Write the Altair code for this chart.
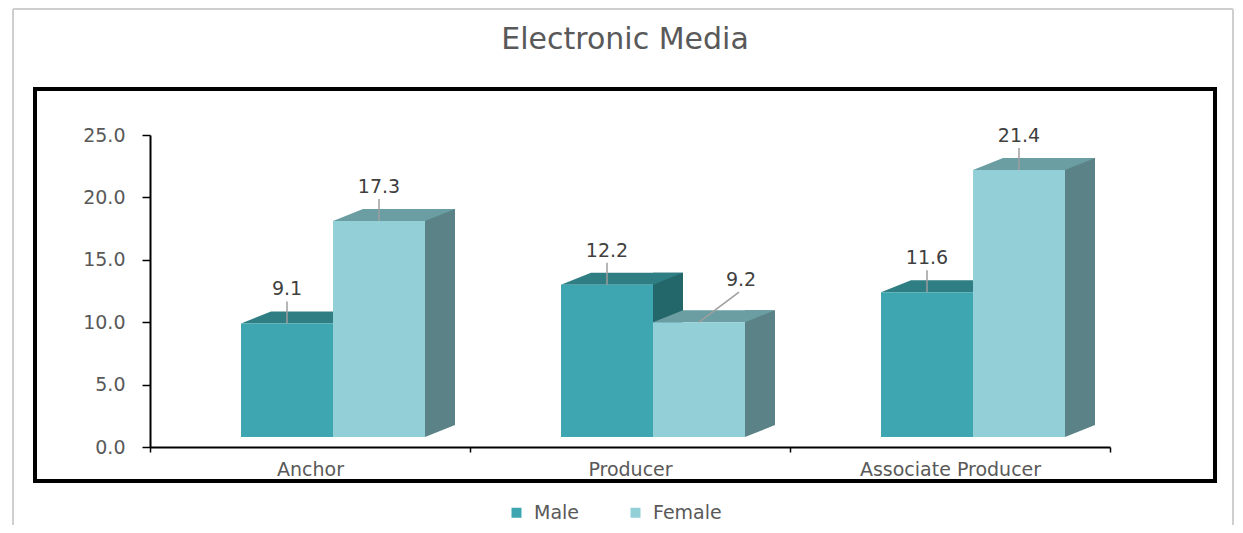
import altair as alt
import pandas as pd

# ---------------- data ----------------
categories = ["Anchor", "Producer", "Associate Producer"]
genders = ["Male", "Female"]
male_values = [9.1, 12.2, 11.6]
female_values = [17.3, 9.2, 21.4]
y_ticks = [0, 5, 10, 15, 20, 25]

rows = []
for c, m, f in zip(categories, male_values, female_values):
    rows.append({"category": c, "gender": "Male", "value": m})
    rows.append({"category": c, "gender": "Female", "value": f})
df = pd.DataFrame(rows)

# ---------------- styling ----------------
FONT = "DejaVu Sans"
TEXT = "#595959"
FRONT = ["#3DA6B0", "#93CFD7"]
TOP_M, TOP_F = "#2E7E83", "#6A9EA2"
SIDE_M, SIDE_F = "#23676B", "#5B8387"

W, H = 1180, 392
X_RANGE = [115, 1075]
Y_RANGE = [358, 46]
LIFT = 10        # front faces sit above the floor line
DX, DY = 30, 12  # 3D depth offset
SHIFT = 23       # horizontal shift of bar pair within category
BAR_W = 92
LEAD = 22        # leader length
LAB = 34         # label distance above front top
NUDGE_X, NUDGE_Y = 42, 8  # label moved aside when hidden behind the taller neighbour


def fmt(v):
    return f"{v:.3f}"


def off_str(extra):
    m = -BAR_W / 2 + SHIFT + extra
    f = BAR_W / 2 + SHIFT + extra
    return f"(datum.gender === 'Male' ? {m} : {f})"


def off(extra):
    return alt.expr(off_str(extra))


s = BAR_W / 2
top_pts = [(-1, 0), (1, 0), (1 + DX / s, -DY / s), (-1 + DX / s, -DY / s)]
TOP_PATH = "M" + "L".join(f"{fmt(a)},{fmt(b)}" for a, b in top_pts) + "Z"
t = DX / 2
mask_pts = [(-1, 0), (1, -DY / t), (1, 0)]
MASK_PATH = "M" + "L".join(f"{fmt(a)},{fmt(b)}" for a, b in mask_pts) + "Z"

x_axis = alt.Axis(title=None, offset=-34, domainColor="black", domainWidth=2,
                  tickColor="black", tickWidth=1.5, tickSize=5, tickBand="extent",
                  labelFont=FONT, labelFontSize=19, labelColor=TEXT, labelPadding=8,
                  labelAngle=0, labelLimit=0, grid=False)
y_axis = alt.Axis(title=None, offset=-115, values=y_ticks, format=".1f",
                  domainColor="black", domainWidth=2, tickColor="black",
                  tickWidth=1.5, tickSize=8, labelFont=FONT, labelFontSize=19,
                  labelColor=TEXT, labelPadding=17, grid=False)

x_enc = alt.X("category:N", sort=categories,
              scale=alt.Scale(range=X_RANGE, paddingInner=0, paddingOuter=0),
              axis=x_axis)
y_scale = alt.Scale(domain=[0, 25], range=Y_RANGE)
y_enc = alt.Y("value:Q", scale=y_scale, axis=y_axis)

is_male = alt.datum.gender == "Male"

base = alt.Chart(df)

# gray page frame
frame_col = "#CFCFCF"
FR_L, FR_R, FR_T, FR_B = -22, 1198, -80, 436
frame_left = base.mark_rule(color=frame_col, strokeWidth=2).encode(
    x=alt.value(FR_L), y=alt.value(FR_T), y2=alt.value(FR_B))
frame_top = base.mark_rule(color=frame_col, strokeWidth=2).encode(
    x=alt.value(FR_L), x2=alt.value(FR_R), y=alt.value(FR_T))
frame_right = base.mark_rule(color=frame_col, strokeWidth=2).encode(
    x=alt.value(FR_R), y=alt.value(FR_T), y2=alt.value(FR_B))

SIDE_EXTRA = BAR_W / 2 + DX / 2

sides = base.mark_bar(width=DX, xOffset=off(SIDE_EXTRA),
                      yOffset=-LIFT - DY, y2Offset=-LIFT).encode(
    x=x_enc, y=y_enc, y2=alt.Y2(datum=0),
    color=alt.when(is_male).then(alt.value(SIDE_M)).otherwise(alt.value(SIDE_F)),
)

masks = base.mark_point(shape=MASK_PATH, size=DX * DX, filled=True, opacity=1,
                        strokeWidth=0, color="white",
                        xOffset=off(SIDE_EXTRA), yOffset=-LIFT).encode(
    x=x_enc,
    y=alt.Y("zero:Q", scale=y_scale, axis=y_axis),
).transform_calculate(zero="0")

tops = base.mark_point(shape=TOP_PATH, size=BAR_W * BAR_W, filled=True, opacity=1,
                       strokeWidth=0, xOffset=off(0), yOffset=-LIFT).encode(
    x=x_enc, y=y_enc,
    color=alt.when(is_male).then(alt.value(TOP_M)).otherwise(alt.value(TOP_F)),
)

fronts = base.mark_bar(width=BAR_W, xOffset=off(0), yOffset=-LIFT,
                       y2Offset=-LIFT).encode(
    x=x_enc, y=y_enc, y2=alt.Y2(datum=0),
    color=alt.Color("gender:N", sort=genders,
                    scale=alt.Scale(domain=genders, range=FRONT),
                    legend=alt.Legend(title=None, orient="none", legendX=472,
                                      legendY=414, direction="horizontal",
                                      symbolType="square", symbolSize=100,
                                      symbolStrokeWidth=0, labelFont=FONT,
                                      labelFontSize=19, labelColor=TEXT,
                                      columnPadding=46, labelOffset=8)),
)

# labels: a label whose bar is lower than its left neighbour is moved aside
lab_base = base.transform_joinaggregate(
    maxv="max(value)", groupby=["category"]
).transform_calculate(
    hid="datum.gender === 'Female' && datum.value < datum.maxv ? 1 : 0"
)

leaders = lab_base.mark_rule(
    color="#9E9E9E", strokeWidth=1.5,
    xOffset=off(0),
    x2Offset=alt.expr(off_str(0) + f" + datum.hid * {NUDGE_X - 2}"),
    yOffset=-LIFT,
    y2Offset=alt.expr(f"{-LIFT - LEAD} - datum.hid * {NUDGE_Y}"),
).encode(
    x=x_enc, x2=alt.X2("category:N"), y=y_enc, y2=alt.Y2("value:Q"),
)

labels = lab_base.mark_text(
    xOffset=alt.expr(off_str(0) + f" + datum.hid * {NUDGE_X}"),
    yOffset=alt.expr(f"{-LIFT - LAB} - datum.hid * {NUDGE_Y}"),
    baseline="middle", align="center", font=FONT, fontSize=19,
    color="#404040",
).encode(
    x=x_enc, y=y_enc,
    text=alt.Text("value:Q", format=".1f"),
)

chart = alt.layer(
    frame_left, frame_top, frame_right, sides, masks, tops, fronts, leaders, labels
).properties(
    width=W, height=H,
    background="white",
    padding={"left": 4, "top": 0, "right": 0, "bottom": 0},
    title=alt.Title("Electronic Media", font=FONT, fontSize=30,
                    fontWeight="normal", color=TEXT, anchor="middle",
                    frame="group", offset=-47),
).configure_view(
    stroke="black", strokeWidth=4
)

chart.save("out.html", embed_options={"renderer": "svg", "actions": False})
